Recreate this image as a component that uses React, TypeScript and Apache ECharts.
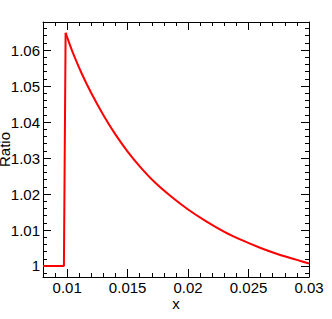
import React, { useEffect, useRef } from "react";
import * as echarts from "echarts";

// Step part of the curve (x, ratio)
const stepX = [0.008, 0.00973, 0.00987];
const stepY = [1.0, 1.0, 1.0648];

// Decaying part of the curve
const curveX = [0.00987, 0.0105, 0.0112, 0.012, 0.013, 0.014, 0.015, 0.016, 0.0172, 0.0186, 0.02, 0.0215, 0.023, 0.0245, 0.026, 0.0275, 0.029, 0.03];
const curveY = [1.0648, 1.059, 1.0535, 1.048, 1.0419, 1.0365, 1.0318, 1.0277, 1.0234, 1.0193, 1.0157, 1.0124, 1.0095, 1.0071, 1.005, 1.0032, 1.0017, 1.0007];

const xMajorTicks = [0.01, 0.015, 0.02, 0.025, 0.03];
const yMajorTicks = [1, 1.01, 1.02, 1.03, 1.04, 1.05, 1.06];
const xLabels = ["0.01", "0.015", "0.02", "0.025", "0.03"];
const yLabels = ["1", "1.01", "1.02", "1.03", "1.04", "1.05", "1.06"];

const X_MIN = 0.008;
const X_MAX = 0.03;
const Y_MIN = 0.99694;
const Y_MAX = 1.0678;

const xMinorTicks: number[] = [];
for (let i = 8; i <= 30; i++) xMinorTicks.push(i / 1000);
const yMinorTicks: number[] = [];
for (let i = 499; i <= 533; i++) yMinorTicks.push(i / 500);

const FONT = "'Liberation Sans', Arial, Helvetica, sans-serif";

export default function App() {
  const ref = useRef<HTMLDivElement>(null);
  useEffect(() => {
    if (!ref.current) return;
    const chart = echarts.init(ref.current, undefined, { renderer: "svg" });
    const grid = { left: 43, top: 22, width: 266, height: 255, containLabel: false, outerBoundsMode: "none" };
    const lineStyle = { color: "#000", width: 1 };
    const mkX = (gridIndex: number, position: string, major: boolean, main: boolean) => ({
      type: "value",
      gridIndex,
      position,
      min: X_MIN,
      max: X_MAX,
      axisLine: { show: major, lineStyle, onZero: false },
      splitLine: { show: false },
      axisTick: {
        show: true,
        inside: true,
        length: major ? 8 : 4,
        lineStyle,
        customValues: major ? xMajorTicks : xMinorTicks,
      },
      axisLabel: main
        ? {
            show: true,
            customValues: xMajorTicks,
            formatter: (v: number) => xLabels[xMajorTicks.findIndex((t) => Math.abs(t - v) < 1e-9)] ?? "",
            color: "#000",
            fontSize: 15,
            fontFamily: FONT,
            margin: 3,
          }
        : { show: false },
      name: main ? "x" : "",
      nameLocation: "middle",
      nameGap: 19,
      nameMoveOverlap: false,
      nameTextStyle: { color: "#000", fontSize: 15, fontFamily: FONT },
    });
    const mkY = (gridIndex: number, position: string, major: boolean, main: boolean) => ({
      type: "value",
      gridIndex,
      position,
      min: Y_MIN,
      max: Y_MAX,
      axisLine: { show: major, lineStyle, onZero: false },
      splitLine: { show: false },
      axisTick: {
        show: true,
        inside: true,
        length: major ? 8 : 4,
        lineStyle,
        customValues: major ? yMajorTicks : yMinorTicks,
      },
      axisLabel: main
        ? {
            show: true,
            customValues: yMajorTicks,
            formatter: (v: number) => yLabels[yMajorTicks.findIndex((t) => Math.abs(t - v) < 1e-9)] ?? "",
            color: "#000",
            fontSize: 15,
            fontFamily: FONT,
            margin: 3,
          }
        : { show: false },
      name: main ? "Ratio" : "",
      nameLocation: "middle",
      nameGap: 31,
      nameMoveOverlap: false,
      nameTextStyle: { color: "#000", fontSize: 15, fontFamily: FONT },
    });
    chart.setOption({
      animation: false,
      grid: [{ ...grid }, { ...grid }],
      xAxis: [mkX(0, "bottom", true, true), mkX(0, "top", true, false), mkX(1, "bottom", false, false), mkX(1, "top", false, false)],
      yAxis: [mkY(0, "left", true, true), mkY(0, "right", true, false), mkY(1, "left", false, false), mkY(1, "right", false, false)],
      series: [
        {
          type: "line",
          xAxisIndex: 0,
          yAxisIndex: 0,
          data: stepX.map((x, i) => [x, stepY[i]]),
          showSymbol: false,
          symbol: "none",
          lineStyle: { color: "#ff0000", width: 2 },
          z: 5,
        },
        {
          type: "line",
          xAxisIndex: 0,
          yAxisIndex: 0,
          data: curveX.map((x, i) => [x, curveY[i]]),
          showSymbol: false,
          symbol: "none",
          smooth: 0.3,
          lineStyle: { color: "#ff0000", width: 2 },
          z: 5,
        },
      ],
    });
    return () => chart.dispose();
  }, []);
  return (
    <div
      ref={ref}
      style={{ position: "fixed", left: 0, top: 0, width: 332, height: 319, background: "#fff" }}
    />
  );
}
